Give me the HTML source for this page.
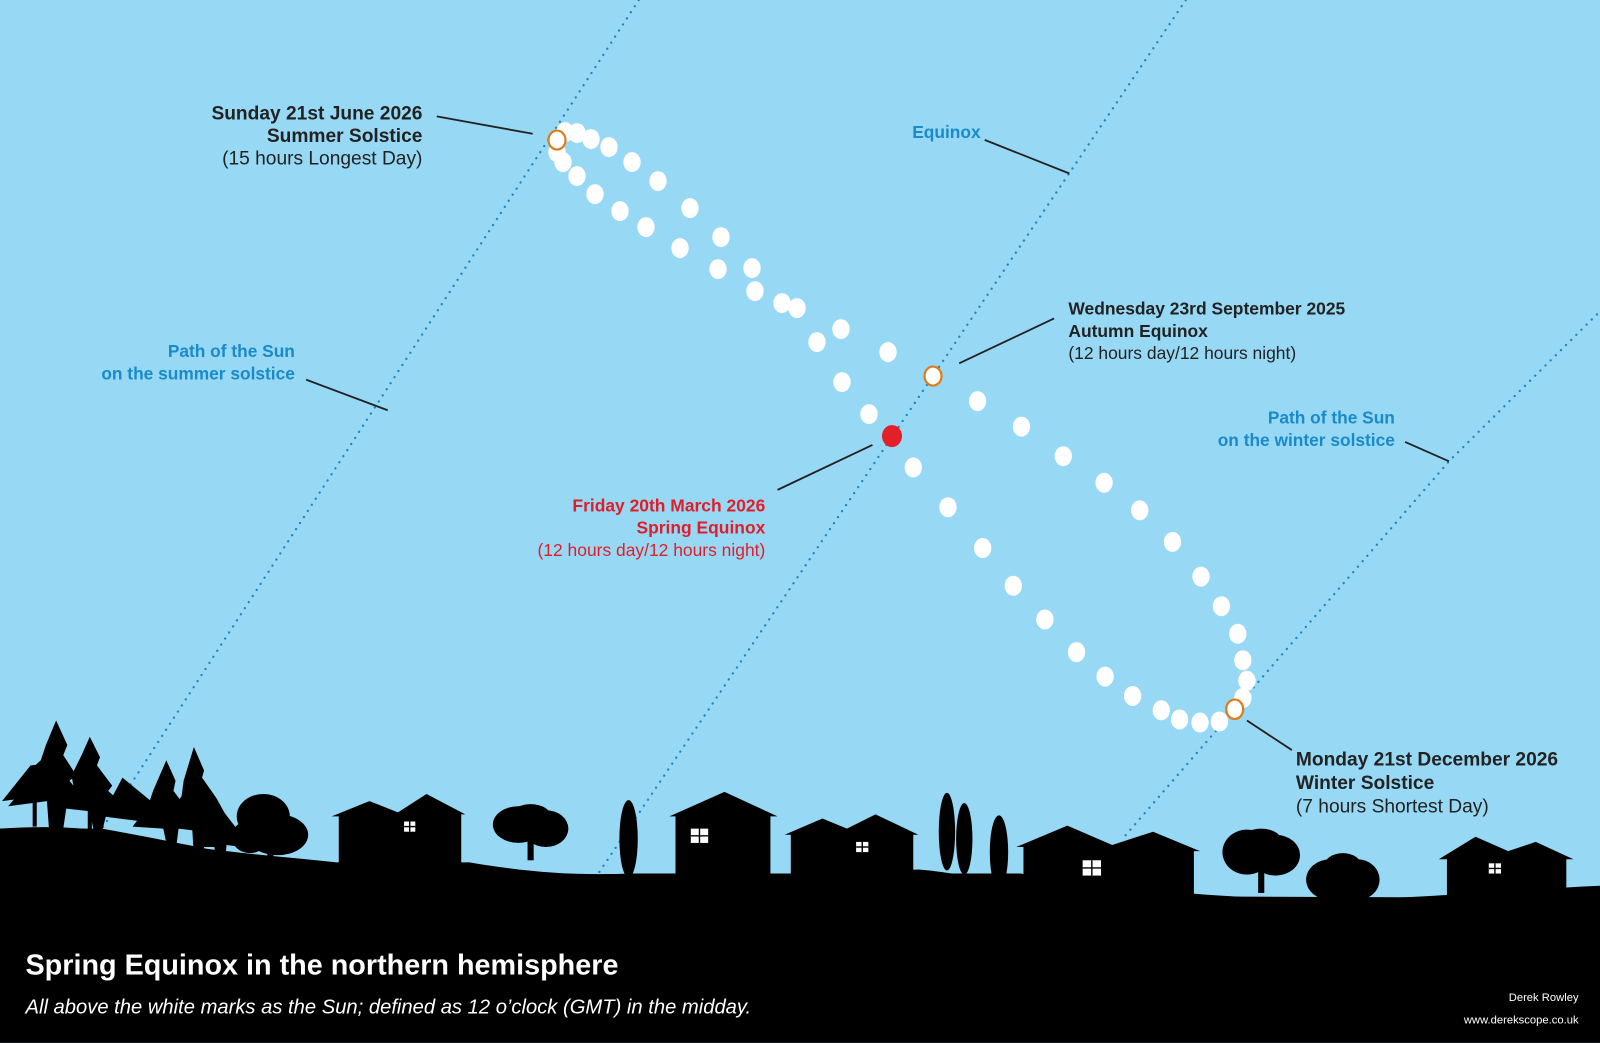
<!DOCTYPE html>
<html><head><meta charset="utf-8"><style>
html,body{margin:0;padding:0;background:#97d8f5;}
svg{display:block}
text{font-family:"Liberation Sans",Arial,sans-serif}
</style></head><body>
<svg width="1600" height="1043" viewBox="0 0 1568 1022" xmlns="http://www.w3.org/2000/svg">
<rect width="1568" height="1022" fill="#97d8f5"/>
<g stroke="#1a86c4" stroke-width="2.2" stroke-dasharray="0.1 7" stroke-linecap="round" fill="none">
<line x1="626" y1="0" x2="100" y2="812"/>
<line x1="1162" y1="0" x2="585" y2="858"/>
<polyline points="1565,308 1420,452 1210,695 1100,822"/>
</g>
<g stroke="#222" stroke-width="1.8">
<line x1="428" y1="114" x2="522" y2="131"/>
<line x1="965" y1="137" x2="1048" y2="170"/>
<line x1="300" y1="372" x2="380" y2="402"/>
<line x1="1033" y1="312" x2="940" y2="356"/>
<line x1="762" y1="480" x2="855" y2="436"/>
<line x1="1377" y1="433" x2="1420" y2="452"/>
<line x1="1222" y1="706" x2="1266" y2="735"/>
</g>
<g fill="#fff">
<g transform="scale(0.98)">
<ellipse cx="565" cy="132" rx="8.7" ry="10"/><ellipse cx="577" cy="133" rx="8.7" ry="10"/><ellipse cx="591" cy="139" rx="8.7" ry="10"/><ellipse cx="609" cy="147" rx="8.7" ry="10"/><ellipse cx="632" cy="162" rx="8.7" ry="10"/><ellipse cx="658" cy="181" rx="8.7" ry="10"/><ellipse cx="690" cy="208" rx="8.7" ry="10"/><ellipse cx="721" cy="237" rx="8.7" ry="10"/><ellipse cx="752" cy="268" rx="8.7" ry="10"/><ellipse cx="755" cy="291" rx="8.7" ry="10"/><ellipse cx="782" cy="303" rx="8.7" ry="10"/><ellipse cx="797" cy="308" rx="8.7" ry="10"/><ellipse cx="841" cy="329" rx="8.7" ry="10"/><ellipse cx="888" cy="352" rx="8.7" ry="10"/>
<ellipse cx="557" cy="152" rx="8.7" ry="10"/><ellipse cx="563" cy="162" rx="8.7" ry="10"/><ellipse cx="577" cy="176" rx="8.7" ry="10"/><ellipse cx="595" cy="194" rx="8.7" ry="10"/><ellipse cx="620" cy="211" rx="8.7" ry="10"/><ellipse cx="646" cy="227" rx="8.7" ry="10"/><ellipse cx="680" cy="248" rx="8.7" ry="10"/><ellipse cx="718" cy="269" rx="8.7" ry="10"/><ellipse cx="817" cy="342" rx="8.7" ry="10"/><ellipse cx="842" cy="382" rx="8.7" ry="10"/><ellipse cx="869" cy="414" rx="8.7" ry="10"/>
<ellipse cx="557" cy="140" rx="8.5" ry="9.5" stroke="#e07b1a" stroke-width="2.2"/>
<ellipse cx="933" cy="376" rx="8.5" ry="9.5" stroke="#e07b1a" stroke-width="2.2"/>
<ellipse cx="892" cy="436" rx="10" ry="11" fill="#e3202a"/>
</g>
<ellipse cx="895" cy="458" rx="8.5" ry="9.8"/><ellipse cx="929" cy="497" rx="8.5" ry="9.8"/><ellipse cx="963" cy="537" rx="8.5" ry="9.8"/><ellipse cx="993" cy="574" rx="8.5" ry="9.8"/><ellipse cx="1024" cy="607" rx="8.5" ry="9.8"/><ellipse cx="1055" cy="639" rx="8.5" ry="9.8"/><ellipse cx="1083" cy="663" rx="8.5" ry="9.8"/><ellipse cx="1110" cy="682" rx="8.5" ry="9.8"/><ellipse cx="1138" cy="696" rx="8.5" ry="9.8"/><ellipse cx="1156" cy="705" rx="8.5" ry="9.8"/><ellipse cx="1176" cy="708" rx="8.5" ry="9.8"/><ellipse cx="1195" cy="707" rx="8.5" ry="9.8"/><ellipse cx="1218" cy="684" rx="8.5" ry="9.8"/><ellipse cx="1222" cy="667" rx="8.5" ry="9.8"/><ellipse cx="1218" cy="647" rx="8.5" ry="9.8"/><ellipse cx="1213" cy="621" rx="8.5" ry="9.8"/><ellipse cx="1197" cy="594" rx="8.5" ry="9.8"/><ellipse cx="1177" cy="565" rx="8.5" ry="9.8"/><ellipse cx="1149" cy="531" rx="8.5" ry="9.8"/><ellipse cx="1117" cy="500" rx="8.5" ry="9.8"/><ellipse cx="1082" cy="473" rx="8.5" ry="9.8"/><ellipse cx="1042" cy="447" rx="8.5" ry="9.8"/><ellipse cx="1001" cy="418" rx="8.5" ry="9.8"/><ellipse cx="958" cy="393" rx="8.5" ry="9.8"/>
<ellipse cx="1210" cy="695" rx="8.3" ry="9.5" stroke="#e07b1a" stroke-width="2.2"/>
</g>
<g fill="#000">
<path d="M0,812 C60,808 110,812 150,825 C220,835 280,840 330,845 L460,845 C520,855 560,858 620,856 L1000,856 C1100,872 1200,880 1300,882 C1400,880 1480,872 1568,868 L1568,1022 L0,1022 Z"/>
<path d="M0,812 L100,812 C200,830 260,845 320,852 L560,860 C640,870 700,860 760,858 L900,852 C950,856 1000,870 1050,878 L1568,880 L1568,900 L0,900Z"/>
<path d="M325,800 L362,785 L390,796 L418,778 L456,798 L452,798 L452,846 L332,846 L332,800Z"/>
<path d="M656,800 L710,776 L762,800 L755,800 L755,858 L662,858 L662,800Z"/>
<path d="M769,818 L806,802 L830,812 L858,798 L900,818 L895,818 L895,860 L775,860 L775,818Z"/>
<path d="M996,830 L1046,809 L1090,828 L1130,815 L1176,834 L1170,834 L1170,882 L1003,882 L1003,830Z"/>
<path d="M1410,842 L1446,820 L1478,834 L1505,825 L1542,842 L1535,842 L1535,878 L1418,878 L1418,842Z"/>
<ellipse cx="258" cy="800" rx="26" ry="22"/><ellipse cx="272" cy="818" rx="30" ry="20"/><ellipse cx="245" cy="820" rx="18" ry="16"/><rect x="262" y="820" width="6" height="38"/>
<ellipse cx="508" cy="808" rx="25" ry="18"/><ellipse cx="535" cy="812" rx="22" ry="18"/><ellipse cx="520" cy="800" rx="20" ry="12"/><rect x="517" y="815" width="6" height="28"/>
<ellipse cx="1222" cy="835" rx="24" ry="22"/><ellipse cx="1250" cy="838" rx="24" ry="20"/><ellipse cx="1236" cy="824" rx="20" ry="12"/><rect x="1233" y="845" width="6" height="30"/>
<ellipse cx="1304" cy="862" rx="24" ry="20"/><ellipse cx="1330" cy="862" rx="22" ry="20"/><ellipse cx="1316" cy="848" rx="18" ry="12"/><rect x="1313" y="865" width="6" height="28"/>
<ellipse cx="616" cy="822" rx="9" ry="38"/>
<ellipse cx="928" cy="815" rx="8" ry="38"/><ellipse cx="945" cy="822" rx="8" ry="35"/><ellipse cx="979" cy="835" rx="9" ry="36"/>
<path d="M55,706 L66,730 L62,740 L75,760 L68,765 L88,790 L66,785 L62,812 L48,812 L46,785 L8,790 L25,770 L18,765 L40,745 L45,730Z"/>
<path d="M30,750 L52,748 L40,780 L2,785Z"/>
<path d="M88,722 L98,742 L95,750 L110,770 L106,775 L128,795 L105,795 L100,815 L92,815 L88,795 L62,792 L72,770 L70,760 L80,740Z"/>
<path d="M120,762 L148,785 L140,805 L100,800Z"/>
<path d="M163,745 L172,765 L170,775 L185,795 L200,815 L175,812 L172,835 L165,835 L160,812 L130,810 L145,790 L150,775Z"/>
<path d="M190,732 L200,755 L198,762 L212,782 L222,800 L205,805 L198,840 L190,840 L188,805 L165,800 L178,780 L180,765Z"/>
<path d="M215,790 L232,812 L238,830 L222,828 L220,850 L214,850 L210,830 L190,830 L200,812Z"/>
<rect x="32" y="780" width="4" height="30"/><rect x="86" y="780" width="4" height="35"/>
</g>
<g fill="#fff">
<rect x="396" y="805" width="11" height="10"/><rect x="677" y="812" width="17" height="14"/><rect x="839" y="825" width="12" height="10"/><rect x="1061" y="843" width="18" height="15"/><rect x="1459" y="846" width="12" height="10"/>
</g>
<g stroke="#000" stroke-width="1.4">
<line x1="401.5" y1="805" x2="401.5" y2="815"/><line x1="396" y1="810" x2="407" y2="810"/>
<line x1="685.5" y1="812" x2="685.5" y2="826"/><line x1="677" y1="819" x2="694" y2="819"/>
<line x1="845" y1="825" x2="845" y2="835"/><line x1="839" y1="830" x2="851" y2="830"/>
<line x1="1070" y1="843" x2="1070" y2="858"/><line x1="1061" y1="850.5" x2="1079" y2="850.5"/>
<line x1="1465" y1="846" x2="1465" y2="856"/><line x1="1459" y1="851" x2="1471" y2="851"/>
</g>
<g font-size="18.8" fill="#222">
<text x="414" y="117" text-anchor="end" font-weight="bold">Sunday 21st June 2026</text>
<text x="414" y="139" text-anchor="end" font-weight="bold">Summer Solstice</text>
<text x="414" y="161" text-anchor="end">(15 hours Longest Day)</text>
<text x="1270" y="750" font-weight="bold">Monday 21st December 2026</text>
<text x="1270" y="773" font-weight="bold">Winter Solstice</text>
<text x="1270" y="796">(7 hours Shortest Day)</text>
</g>
<g font-size="17.1" fill="#222">
<text x="1047" y="308" font-weight="bold">Wednesday 23rd September 2025</text>
<text x="1047" y="330" font-weight="bold">Autumn Equinox</text>
<text x="1047" y="352">(12 hours day/12 hours night)</text>
</g>
<g font-size="17.1" fill="#e01e2a" text-anchor="end">
<text x="750" y="501" font-weight="bold">Friday 20th March 2026</text>
<text x="750" y="523" font-weight="bold">Spring Equinox</text>
<text x="750" y="545">(12 hours day/12 hours night)</text>
</g>
<g font-size="17" fill="#1a8ac8" font-weight="bold">
<text x="894" y="135">Equinox</text>
<text x="289" y="350" text-anchor="end">Path of the Sun</text>
<text x="289" y="372" text-anchor="end">on the summer solstice</text>
<text x="1367" y="415" text-anchor="end">Path of the Sun</text>
<text x="1367" y="437" text-anchor="end">on the winter solstice</text>
</g>
<text x="25" y="955" font-size="28.2" font-weight="bold" fill="#fff">Spring Equinox in the northern hemisphere</text>
<text x="25" y="993" font-size="19.8" font-style="italic" fill="#fff">All above the white marks as the Sun; defined as 12 o’clock (GMT) in the midday.</text>
<text x="1547" y="981" font-size="11" fill="#fff" text-anchor="end">Derek Rowley</text>
<text x="1547" y="1003" font-size="11" fill="#fff" text-anchor="end">www.derekscope.co.uk</text>
</svg>
</body></html>
